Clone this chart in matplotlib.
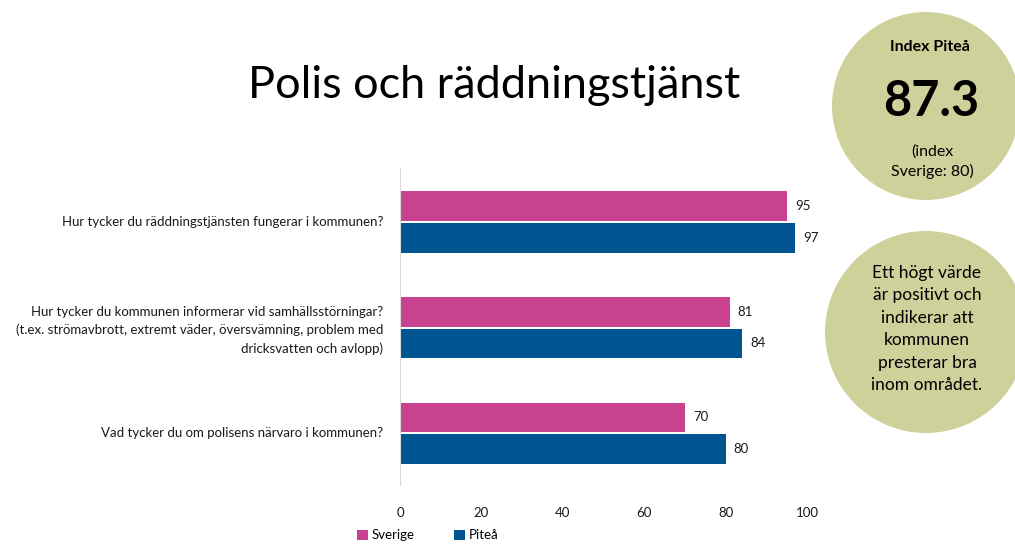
import matplotlib
matplotlib.use("Agg")
import matplotlib.pyplot as plt
import matplotlib.patches as mpatches
import numpy as np

plt.rcParams["font.family"] = ["Lato", "DejaVu Sans"]

PINK = "#C9428F"
BLUE = "#00548F"
OLIVE = "#CFD19B"
TEXT = "#1A1A1A"

questions = [
    "Hur tycker du räddningstjänsten fungerar i kommunen?",
    "Hur tycker du kommunen informerar vid samhällsstörningar?\n"
    "(t.ex. strömavbrott, extremt väder, översvämning, problem med\n"
    "dricksvatten och avlopp)",
    "Vad tycker du om polisens närvaro i kommunen?",
]
sverige = [95, 81, 70]
pitea = [97, 84, 80]
xticks = [0, 20, 40, 60, 80, 100]

W, H = 1015, 548
fig = plt.figure(figsize=(W / 100, H / 100), dpi=100)
fig.patch.set_facecolor("white")

# main bar axes (pixel box: x 400-807, y 168-485)
ax = fig.add_axes([400 / W, 1 - 485 / H, 407 / W, 317 / H])
y = np.arange(len(questions))
bh = 0.28
ax.barh(y - bh / 2, sverige, height=bh, color=PINK, label="Sverige")
ax.barh(y + bh / 2 + 0.02, pitea, height=bh, color=BLUE, label="Piteå")
for yi, v in zip(y, sverige):
    ax.text(v + 2, yi - bh / 2, str(v), va="center", ha="left", fontsize=9.5, color=TEXT)
for yi, v in zip(y, pitea):
    ax.text(v + 2, yi + bh / 2 + 0.02, str(v), va="center", ha="left", fontsize=9.5, color=TEXT)

ax.set_ylim(2.5, -0.5)
ax.set_xlim(0, 100)
ax.set_xticks(xticks)
ax.set_xticklabels([str(t) for t in xticks], fontsize=9.5, color=TEXT)
ax.set_yticks(y)
ax.set_yticklabels(questions, fontsize=9.5, color=TEXT, ha="right", linespacing=1.55)
ax.tick_params(axis="both", length=0)
ax.tick_params(axis="y", pad=12)
ax.tick_params(axis="x", pad=16)
for s in ["top", "right", "bottom"]:
    ax.spines[s].set_visible(False)
ax.spines["left"].set_color("#D9D9D9")

leg = ax.legend(loc="upper left", bbox_to_anchor=(-0.125, -0.115), ncol=2, frameon=False,
                fontsize=9.5, handlelength=0.8, handleheight=0.8, handletextpad=0.3,
                columnspacing=3.0, borderaxespad=0.2)

# title
fig.text(494 / W, 1 - 86 / H, "Polis och räddningstjänst", ha="center", va="center",
         fontsize=32.5, color="black")

# circles
ov = fig.add_axes([0, 0, 1, 1], zorder=-1)
ov.set_xlim(0, W)
ov.set_ylim(H, 0)
ov.axis("off")
ov.add_patch(mpatches.Circle((926, 106), 94, facecolor=OLIVE, edgecolor="none"))
ov.add_patch(mpatches.Circle((926, 332), 101, facecolor=OLIVE, edgecolor="none"))

ov.text(930, 47, "Index Piteå", ha="center", va="center", fontsize=11.5, fontweight="bold", color="black")
ov.text(931, 101, "87.3", ha="center", va="center", fontsize=35, fontweight="bold", color="black")
ov.text(932, 152, "(index", ha="center", va="center", fontsize=11.5, color="black")
ov.text(932, 171, "Sverige: 80)", ha="center", va="center", fontsize=11.5, color="black")

ov.text(927, 329, "Ett högt värde\när positivt och\nindikerar att\nkommunen\npresterar bra\ninom området.",
        ha="center", va="center", fontsize=12.5, color="black", linespacing=1.5)

fig.savefig("out.png", dpi=100, facecolor="white")
